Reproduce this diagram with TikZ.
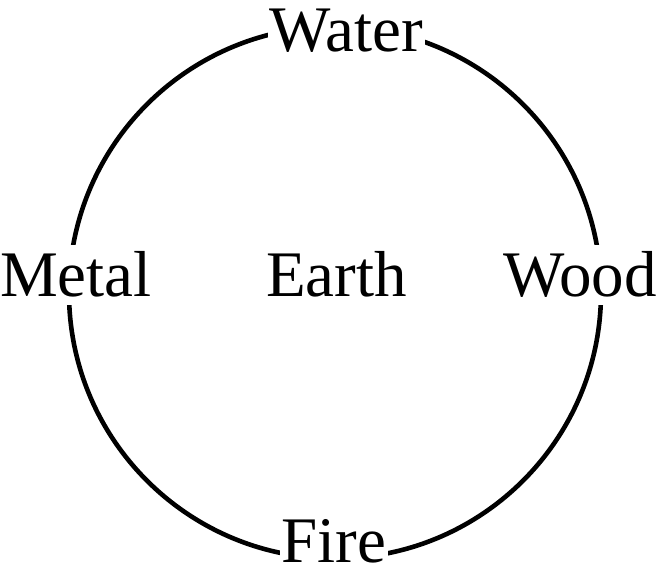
\documentclass[tikz,border=0pt]{standalone}
\usepackage{fontspec}
\setmainfont{Liberation Serif}
\tikzset{
  ring/.style={circle,draw=black,line width=4.6pt,minimum size=532pt,inner sep=0pt},
  element/.style={fill=white,inner xsep=2pt,inner ysep=7pt,anchor=base,font=\fontsize{65}{70}\selectfont}
}
\begin{document}
\begin{tikzpicture}[x=1pt,y=-1pt]
  \useasboundingbox (0,0) rectangle (659,572);
  \node[ring] (cycle) at (335,292.5) {};
  \node[element] (water) at (346.5,52) {Water};
  \node[element,inner ysep=4pt] (fire) at (334,562) {Fire};
  \node[element] (metal) at (76,297) {Metal};
  \node[element] (wood) at (580,297) {Wood};
  \node[element,fill=none] (earth) at (336.5,297) {Earth};
\end{tikzpicture}
\end{document}
